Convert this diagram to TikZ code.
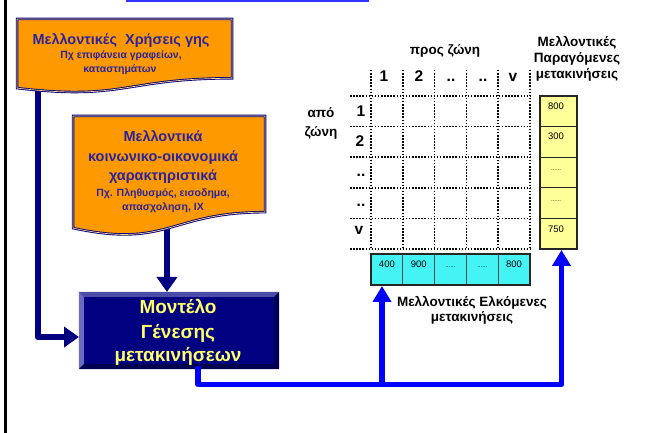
\documentclass[tikz,border=0pt]{standalone}
\usepackage{fontspec}
\setmainfont{Liberation Sans}
\usetikzlibrary{arrows.meta,calc}
\definecolor{orng}{HTML}{FF9900}
\definecolor{navyb}{HTML}{000080}
\definecolor{doctxt}{HTML}{2A24A0}
\definecolor{yelt}{HTML}{FFFF66}
\definecolor{ycell}{HTML}{FFFF99}
\definecolor{ccell}{HTML}{44F4F4}
\definecolor{pureblue}{HTML}{0000FF}
\definecolor{bevlight}{HTML}{6B6BC0}
\definecolor{bevtop}{HTML}{4C4CA6}
\definecolor{bevdark}{HTML}{000050}
\begin{document}
\begin{tikzpicture}[x=1pt,y=-1pt,
  docshape/.style={fill=orng, draw=navyb, double=orng!45!white, double distance=0.7pt, line width=0.9pt},
  tb/.style={anchor=base, inner sep=0pt},
  docbig/.style={tb, text=doctxt, font=\fontsize{14.5}{17}\selectfont\bfseries},
  docsmall/.style={tb, text=doctxt, font=\fontsize{10.5}{13}\selectfont\bfseries},
  modeltxt/.style={tb, text=yelt, font=\fontsize{19}{22}\selectfont\bfseries},
  lbl/.style={tb, text=black, font=\fontsize{13.5}{16}\selectfont\bfseries},
  idx/.style={tb, text=black, font=\fontsize{15.5}{18}\selectfont\bfseries},
  num/.style={tb, text=black, font=\fontsize{9.5}{11}\selectfont},
  dots/.style={tb, text=black, font=\fontsize{6}{7}\selectfont},
  gridline/.style={line width=1.5pt, dash pattern=on 1.5pt off 1.6pt},
  navyarrow/.style={draw=navyb, line width=6.5pt, line join=round, -{Triangle[width=20pt,length=15pt]}},
  bluearrow/.style={draw=pureblue, line width=5.5pt, line join=round, -{Triangle[width=18pt,length=16pt]}},
  blueline/.style={draw=pureblue, line width=5.5pt, line join=round}
]
\useasboundingbox (0,0) rectangle (649,433);
% frame remnants
\draw[black, line width=2.5pt] (5.5,0) -- (5.5,433);
\draw[blue!80!white, line width=1.6pt] (126,0.8) -- (369,0.8);

% coordinates for connectors
\coordinate (u1) at (38,84);
\coordinate (m1) at (79,337);
\coordinate (s1) at (167,226);
\coordinate (m2) at (167,292);
\coordinate (m3) at (198,366);
\coordinate (j1) at (382,384.5);
\coordinate (cy1) at (382,286);
\coordinate (ye1) at (561.5,250);

% navy connectors
\draw[navyarrow] (u1) |- (m1);
\draw[navyarrow] (s1) -- (m2);

% document shape 1
\draw[docshape] (17,19) -- (232,19) -- (232,78.3)
  .. controls (124.5,78.3) and (124.5,100.9) .. (17,88.1) -- cycle;
\node[docbig] (u_t1) at (121,45) {Μελλοντικές\ \ Χρήσεις γης};
\node[docsmall] (u_t2) at (121,58.5) {Πχ επιφάνεια γραφείων,};
\node[docsmall] (u_t3) at (120,72.5) {καταστημάτων};

% document shape 2
\draw[docshape] (73,116) -- (265,116) -- (265,212.2)
  .. controls (169,212.2) and (169,248.8) .. (73,228.1) -- cycle;
\node[docbig] (s_t1) at (163,142) {Μελλοντικά};
\node[docbig] (s_t2) at (163,162) {κοινωνικο-οικονομικά};
\node[docbig] (s_t3) at (163,180.5) {χαρακτηριστικά};
\node[docsmall] (s_t4) at (163,197) {Πχ. Πληθυσμός, εισοδημα,};
\node[docsmall] (s_t5) at (163,210.5) {απασχοληση, ΙΧ};

% model box
\node[fill=navyb, minimum width=200pt, minimum height=77pt, inner sep=0pt] (model) at (179,330.5) {};
\fill[bevtop] (model.north west) -- (model.north east) -- ++(-5,5) -- ($(model.north west)+(5,5)$) -- cycle;
\fill[bevlight] (model.north west) -- ($(model.north west)+(5,5)$) -- ($(model.south west)+(5,-5)$) -- (model.south west) -- cycle;
\fill[bevdark] (model.north east) -- (model.south east) -- ($(model.south east)+(-5,-5)$) -- ($(model.north east)+(-5,5)$) -- cycle;
\fill[bevdark] (model.south west) -- (model.south east) -- ($(model.south east)+(-5,-5)$) -- ($(model.south west)+(5,-5)$) -- cycle;
\node[modeltxt] (m_t1) at (178,314) {Μοντέλο};
\node[modeltxt] (m_t2) at (178,338) {Γένεσης};
\node[modeltxt] (m_t3) at (178,361) {μετακινήσεων};

% blue connectors
\draw[blueline] (m3) |- (j1);
\draw[bluearrow] (j1) -- (cy1);
\draw[bluearrow] (j1) -| (ye1);

% grid
\foreach \x in {371,402.8,434.6,466.4,498.2,530} {
  \draw[gridline] (\x,70) -- (\x,249);
}
\foreach \y in {96,126.6,157.2,187.8,218.4,249} {
  \draw[gridline] (350,\y) -- (531,\y);
}
\node[lbl] (pros) at (445,55) {προς ζώνη};
\node[lbl] (apo1) at (321,118) {από};
\node[lbl] (apo2) at (321,137) {ζώνη};
\node[idx] (c1) at (384,82) {1};
\node[idx] (c2) at (419,82) {2};
\node[idx] (c3) at (451,82) {..};
\node[idx] (c4) at (483,82) {..};
\node[idx] (c5) at (513,82) {v};
\node[idx] (r1) at (361,117) {1};
\node[idx] (r2) at (360,147) {2};
\node[idx] (r3) at (361,177) {..};
\node[idx] (r4) at (361,207) {..};
\node[idx] (r5) at (359,235) {v};

% production column
\node[lbl] (h1) at (577,47) {Μελλοντικές};
\node[lbl] (h2) at (577,63) {Παραγόμενες};
\node[lbl] (h3) at (577,79) {μετακινήσεις};
\foreach \y in {96,126.6,157.2,187.8,218.4} {
  \draw[fill=ycell, draw=black!85, line width=0.8pt] (540,\y) rectangle ++(37,30.6);
}
\draw[black!85, line width=2pt] (540,96) rectangle (577,249);
\node[num] (y1) at (556,110) {800};
\node[num] (y2) at (556,140) {300};
\node[dots] (y3) at (556,171) {......};
\node[dots] (y4) at (556,202) {......};
\node[num] (y5) at (556,233) {750};

% attraction row
\foreach \x in {371,402.8,434.6,466.4,498.2} {
  \draw[fill=ccell, draw=black!70, line width=0.8pt] (\x,254) rectangle ++(31.8,31);
}
\draw[black!85, line width=2pt] (371,254) rectangle (530,285);
\node[num] (a1) at (386.9,268) {400};
\node[num] (a2) at (418.7,268) {900};
\node[dots] (a3) at (450.5,268) {......};
\node[dots] (a4) at (482.3,268) {......};
\node[num] (a5) at (514.1,268) {800};
\node[lbl] (e1) at (472,306) {Μελλοντικές Ελκόμενες};
\node[lbl] (e2) at (472,322) {μετακινήσεις};
\end{tikzpicture}
\end{document}
